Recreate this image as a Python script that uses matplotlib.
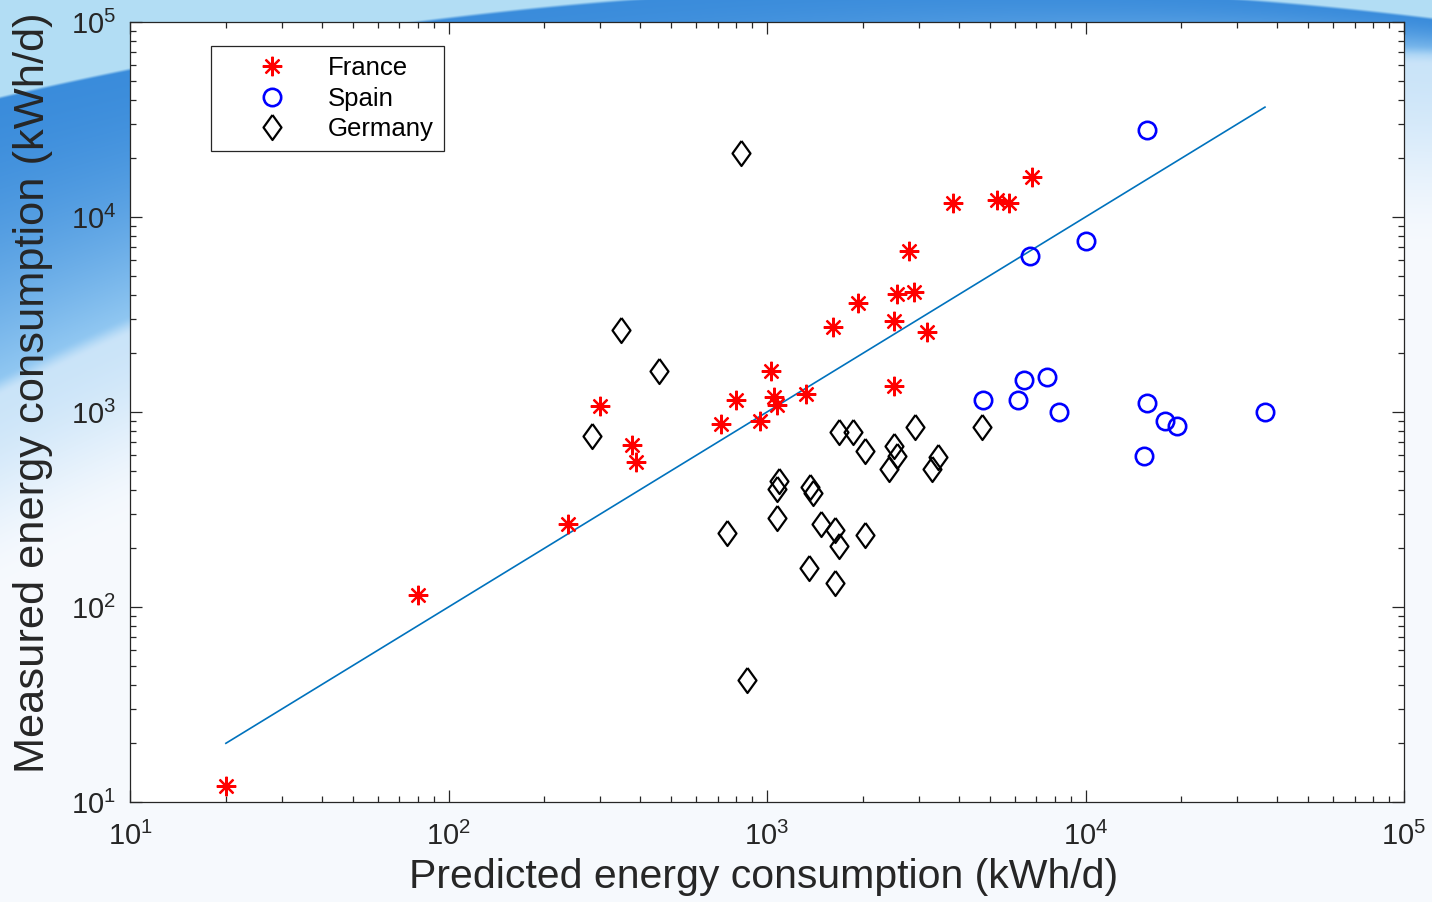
import numpy as np
import matplotlib
matplotlib.use("Agg")
import matplotlib.pyplot as plt
from matplotlib.ticker import LogLocator, FuncFormatter, NullFormatter

plt.rcParams['font.family'] = ['Liberation Sans', 'DejaVu Sans']
plt.rcParams['mathtext.fontset'] = 'custom'
plt.rcParams['mathtext.rm'] = 'Liberation Sans'
plt.rcParams['mathtext.it'] = 'Liberation Sans'

# ---- data ----
france_pred = [20, 80, 237, 299, 377, 388, 718, 800, 951, 1031, 1052, 1075, 1325,
               1611, 1930, 2506, 2506, 2560, 2794, 2897, 3178, 3838, 5272, 5750, 6793]
france_meas = [12.1, 115, 267, 1074, 678, 555, 867, 1153, 899, 1622, 1194, 1086, 1236,
               2729, 3623, 2930, 1359, 4027, 6700, 4120, 2570, 11800, 12200, 11800, 16000]

spain_pred = [15600, 6700, 10050, 4760, 6140, 6410, 7570, 8260, 15600, 15300, 17800, 19400, 36600]
spain_meas = [27900, 6310, 7530, 1153, 1153, 1459, 1510, 1000, 1112, 594, 899, 848, 1000]

germany_pred = [828, 348, 458, 282, 748, 865, 1683, 1862, 2031, 2506, 2560, 2415, 2917,
                3443, 3298, 4732, 1092, 1075, 1365, 1394, 1075, 1479, 1637, 1683, 2031, 1355, 1637]
germany_meas = [21300, 2640, 1622, 753, 239, 42.3, 789, 789, 631, 670, 594, 510, 838,
                587, 510, 838, 443, 403, 412, 384, 286, 267, 248, 206, 234, 158, 133]

series_labels = ['France', 'Spain', 'Germany']
axis_min, axis_max = 10, 1e5

# ---- figure ----
W, H = 1432, 902
fig = plt.figure(figsize=(W / 100, H / 100), dpi=100)

# decorative slide background
bg = fig.add_axes([0, 0, 1, 1], zorder=-10)
bg.set_axis_off()
yy, xx = np.mgrid[0:H, 0:W].astype(float)
u = 97 - 0.2332 * xx + 1.2434e-4 * xx ** 2
l = 385 - 0.4923 * xx + 1.8284e-4 * xx ** 2
light_top = np.array([0.70, 0.87, 0.96])
white = np.array([0.965, 0.978, 0.995])
dark = np.array([0.23, 0.55, 0.86])
mid = np.array([0.58, 0.79, 0.95])


def smooth(z):
    z = np.clip(z, 0, 1)
    return z * z * (3 - 2 * z)


gb = smooth((yy - l) / 200.0)[..., None]
below = (mid * 0.45 + white * 0.55) * (1 - gb) + white * gb
t = np.clip((yy - u) / np.maximum(l - u, 1), 0, 1)[..., None]
band = dark * (1 - t ** 1.6) + mid * (t ** 1.6)
w_above = smooth((u - yy + 2) / 4.0)[..., None]
w_below = smooth((yy - l + 10) / 20.0)[..., None]
img = band * (1 - w_below) + below * w_below
img = img * (1 - w_above) + light_top * w_above
bg.imshow(img, extent=[0, W, H, 0], aspect='auto', interpolation='bilinear')
bg.set_xlim(0, W); bg.set_ylim(H, 0)

ax = fig.add_axes([130 / W, 1 - 802 / H, (1404 - 130) / W, (802 - 22) / H])
ax.set_facecolor('white')

ast = (8, 2, 0)
diamond = [(0, 1), (0.72, 0), (0, -1), (-0.72, 0), (0, 1)]

all_pred = france_pred + spain_pred + germany_pred
lx = [min(all_pred), max(all_pred)]
ax.plot(lx, lx, color='#0072BD', lw=1.2, zorder=2)

ax.plot(france_pred, france_meas, linestyle='none', marker=ast, ms=14, mew=1.6,
        color='red', label=series_labels[0], zorder=3)
ax.plot(spain_pred, spain_meas, linestyle='none', marker='o', ms=12.5, mew=1.9,
        mfc='none', mec='blue', label=series_labels[1], zorder=3)
ax.plot(germany_pred, germany_meas, linestyle='none', marker=diamond, ms=18, mew=1.6,
        mfc='none', mec='black', label=series_labels[2], zorder=3)

ax.set_xscale('log'); ax.set_yscale('log')
ax.set_xlim(axis_min, axis_max); ax.set_ylim(axis_min, axis_max)

fmt = FuncFormatter(lambda v, p: r'$\mathregular{10^{%d}}$' % int(round(np.log10(v))))
for a in (ax.xaxis, ax.yaxis):
    a.set_major_locator(LogLocator(base=10, numticks=10))
    a.set_minor_locator(LogLocator(base=10, subs=np.arange(2, 10), numticks=20))
    a.set_major_formatter(fmt)
    a.set_minor_formatter(NullFormatter())
ax.tick_params(which='both', direction='in', top=True, right=True, colors='#262626',
               labelcolor='#262626', width=0.9)
ax.tick_params(which='major', length=8.5, labelsize=21)
ax.tick_params(which='minor', length=4.5)
ax.tick_params(axis='x', which='major', pad=14)
ax.tick_params(axis='y', which='major', pad=10)
for s in ax.spines.values():
    s.set_color('#262626'); s.set_linewidth(0.9)

ax.set_xlabel('Predicted energy consumption (kWh/d)', fontsize=29.5, color='#262626')
ax.xaxis.set_label_coords((764 - 130) / 1274, -(858 - 802) / 780)
ax.set_ylabel('Measured energy consumption (kWh/d)', fontsize=31.2, color='#262626')
ax.yaxis.set_label_coords(-(130 - 53) / 1274, (802 - 393) / 780)

leg = ax.legend(loc='upper left', bbox_to_anchor=((211 - 130) / 1274, (802 - 46) / 780),
                borderaxespad=0, fontsize=18.5, frameon=True, fancybox=False,
                edgecolor='#262626', framealpha=1, handlelength=3.95, handletextpad=0.2,
                labelspacing=0.25, borderpad=0.4, numpoints=1)
leg.get_frame().set_linewidth(0.9)

fig.savefig('out.png', dpi=100)
